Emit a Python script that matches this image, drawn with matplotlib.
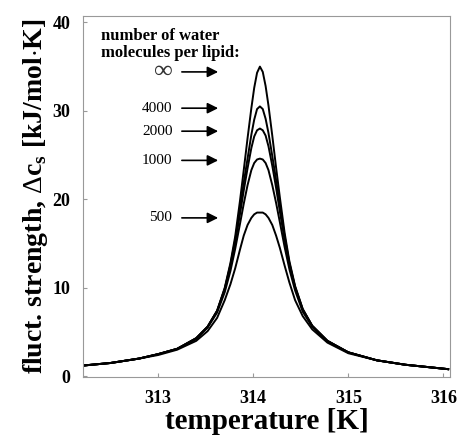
import matplotlib
matplotlib.use("Agg")

import matplotlib.pyplot as plt

plt.rcParams["font.family"] = ["Liberation Serif", "DejaVu Serif"]
plt.rcParams["mathtext.fontset"] = "custom"
plt.rcParams["mathtext.rm"] = "Liberation Serif"
plt.rcParams["mathtext.bf"] = "Liberation Serif:bold"

# temperature grid [K]
temperature = [312.2, 312.5, 312.8, 313.0, 313.2, 313.4, 313.52, 313.62, 313.7,
               313.76, 313.81, 313.86, 313.9, 313.94, 313.98, 314.01, 314.04,
               314.07, 314.10, 314.13, 314.16, 314.2, 314.24, 314.28, 314.33,
               314.38, 314.44, 314.52, 314.62, 314.78, 315.0, 315.3, 315.6,
               316.05]

# fluctuation strength for each water/lipid ratio [kJ/mol K]
cs_inf = [1.2, 1.5, 2.0, 2.5, 3.1, 4.3, 5.6, 7.4, 10.0, 12.8, 15.8, 19.8, 23.3,
          26.9, 30.3, 32.6, 34.3, 35.0,
          34.4, 32.8, 30.6, 27.2, 23.6, 20.2, 16.2, 13.0, 10.2, 7.6, 5.7, 4.0,
          2.7, 1.8, 1.3, 0.8]
cs_4000 = [1.2, 1.5, 2.0, 2.5, 3.1, 4.3, 5.6, 7.4, 9.9, 12.6, 15.4, 18.9, 21.9,
           24.6, 27.3, 29.0, 30.2, 30.5,
           30.2, 29.1, 27.5, 24.9, 22.2, 19.3, 15.8, 12.8, 10.1, 7.6, 5.7, 4.0,
           2.7, 1.8, 1.3, 0.8]
cs_2000 = [1.2, 1.5, 2.0, 2.5, 3.1, 4.3, 5.6, 7.4, 9.8, 12.4, 15.1, 18.3, 21.0,
           23.5, 25.8, 27.1, 27.8, 28.0,
           27.8, 27.2, 26.0, 23.8, 21.3, 18.6, 15.4, 12.6, 10.0, 7.5, 5.7, 4.0,
           2.7, 1.8, 1.3, 0.8]
cs_1000 = [1.2, 1.5, 2.0, 2.5, 3.1, 4.2, 5.5, 7.2, 9.5, 11.9, 14.4, 17.2, 19.5,
           21.6, 23.3, 24.1, 24.5, 24.6,
           24.5, 24.1, 23.3, 21.6, 19.6, 17.4, 14.6, 12.1, 9.7, 7.3, 5.6, 3.9,
           2.7, 1.8, 1.3, 0.8]
cs_500 = [1.2, 1.5, 2.0, 2.4, 3.0, 4.0, 5.1, 6.6, 8.6, 10.4, 12.2, 14.3, 15.9,
          17.1, 17.9, 18.3, 18.5, 18.5,
          18.5, 18.3, 17.9, 17.1, 15.9, 14.5, 12.5, 10.6, 8.6, 6.8, 5.3, 3.8,
          2.6, 1.8, 1.3, 0.8]

curves = [cs_inf, cs_4000, cs_2000, cs_1000, cs_500]
labels = ["\u221e", "4000", "2000", "1000", "500"]
label_y = [34.4, 30.3, 27.7, 24.4, 17.9]

fig = plt.figure(figsize=(4.64, 4.37), dpi=100)
ax = fig.add_axes([0.179, 0.137, 0.791, 0.826])

for cs in curves:
    ax.plot(temperature, cs, color="black", linewidth=1.4)

# labels with arrows pointing at the peaks
for lab, y in zip(labels, label_y):
    ax.annotate("", xy=(313.66, y), xytext=(313.22, y),
                arrowprops=dict(arrowstyle="-|>", color="black", lw=1.2,
                                mutation_scale=16))
    fs = 19 if lab == "\u221e" else 11
    ax.text(313.15, y, lab, ha="right", va="center", fontsize=fs,
            color="#333333" if lab == "\u221e" else "black")

ax.text(312.4, 39.4, "number of water\nmolecules per lipid:", ha="left",
        va="top", fontsize=12, fontweight="bold", linespacing=1.1)

ax.set_xlim(312.21, 316.07)
ax.set_ylim(-0.1, 40.7)
ax.set_xticks([313, 314, 315, 316])
ax.set_yticks([0, 10, 20, 30, 40])

for sp in ax.spines.values():
    sp.set_color("#999999")
    sp.set_linewidth(0.8)

ax.tick_params(direction="in", length=3, color="#999999", pad=9)
for t in ax.get_xticklabels() + ax.get_yticklabels():
    t.set_fontweight("bold")
    t.set_fontsize(13)

ax.set_xlabel("temperature [K]", fontsize=21, fontweight="bold", labelpad=1)
ax.set_ylabel(r"fluct. strength, $\Delta$c$_\mathbf{s}$ [kJ/mol$\cdot$K]",
              fontsize=20, fontweight="bold", labelpad=2)

fig.savefig("out.png", dpi=100)
